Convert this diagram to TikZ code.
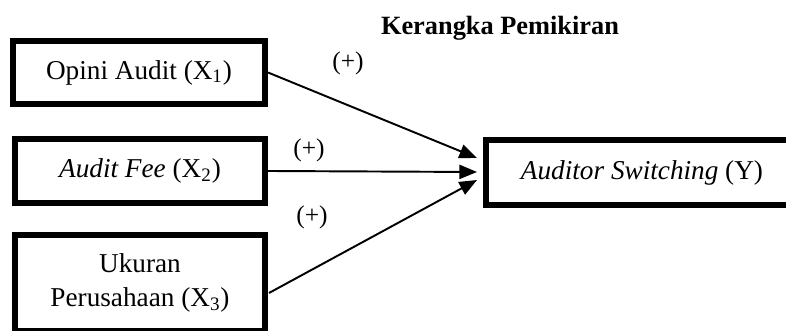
\documentclass[tikz,border=0pt]{standalone}
\usepackage{fontspec}
\setmainfont{Liberation Serif}
\usetikzlibrary{%
	calc,%
	arrows.meta,%
	positioning
}

\begin{document}
\begin{tikzpicture}[
		varbox/.style={draw,line width=3.4pt,align=center,inner sep=0pt,
			font=\fontsize{15.5}{19}\selectfont},
		link/.style={line width=1.1pt,-{Triangle[length=10pt,width=8pt]}},
		sign/.style={font=\fontsize{14.5}{17}\selectfont}
	]
	\useasboundingbox (0,0) rectangle (15.72,6.62);
	\clip (0,0) rectangle (15.72,6.62);
	
	% Title
	\node[font=\bfseries\fontsize{15}{18}\selectfont] (title) at (10.0,6.06) {Kerangka Pemikiran};
	
	% Variables
	\node[varbox,minimum width=5.04cm,minimum height=1.26cm] (x1) at (2.78,5.17) {Opini Audit (X\textsubscript{1})};
	\node[varbox,minimum width=5.0cm,minimum height=1.28cm] (x2) at (2.80,3.2) {\textit{Audit Fee} (X\textsubscript{2})};
	\node[varbox,minimum width=5.0cm,minimum height=1.92cm] (x3) at (2.80,0.96) {Ukuran\\Perusahaan (X\textsubscript{3})};
	\node[varbox,minimum width=6.24cm,minimum height=1.30cm] (y) at (12.84,3.17) {\textit{Auditor Switching} (Y)};
	
	% Arrow ends
	\coordinate (t1) at ($(y.west)+(-0.12,0.29)$);
	\coordinate (t2) at ($(y.west)+(-0.12,0.01)$);
	\coordinate (t3) at ($(y.west)+(-0.12,-0.15)$);
	\coordinate (s3) at ($(x3.east)+(0.02,-0.2)$);
	
	% Relations
	\draw[link] (x1.east) -- (t1);
	\draw[link] (x2.east) -- (t2);
	\draw[link] (s3) -- (t3);
	
	\node[sign] (p1) at (6.96,5.36) {(+)};
	\node[sign] (p2) at (6.18,3.62) {(+)};
	\node[sign] (p3) at (6.24,2.28) {(+)};
\end{tikzpicture}
\end{document}
